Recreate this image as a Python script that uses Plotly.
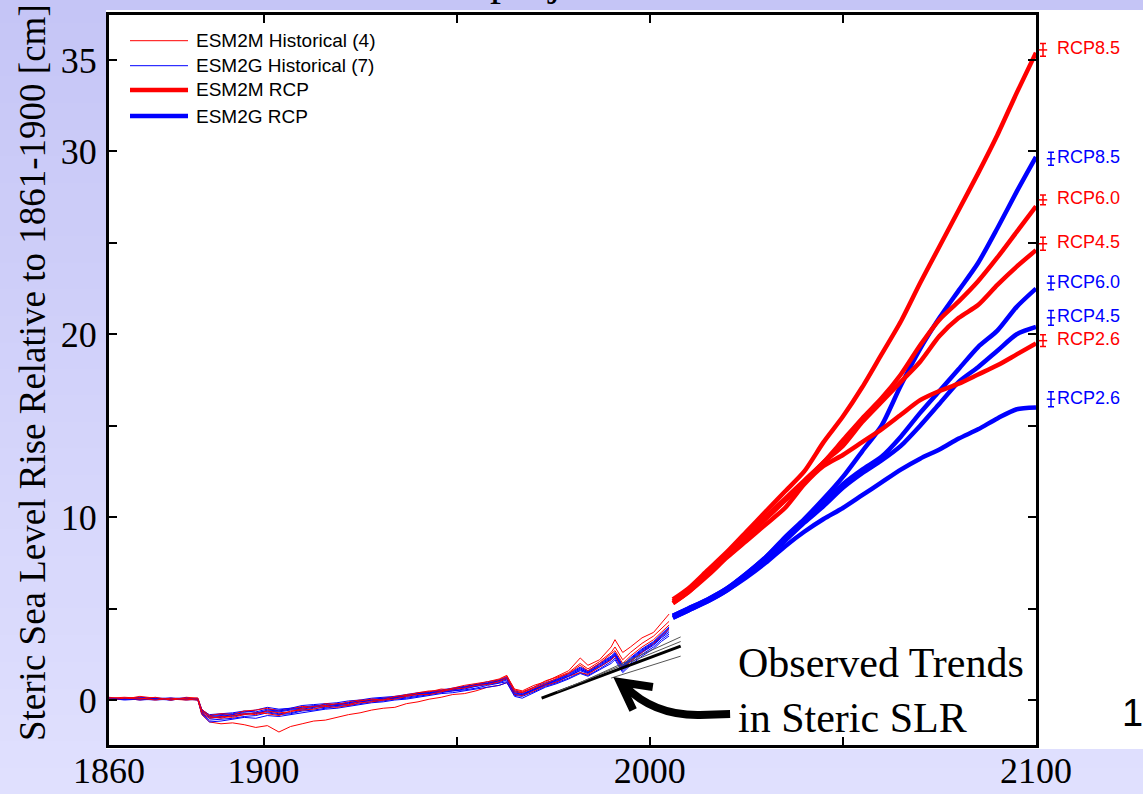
import plotly.graph_objects as go

# ---------------- data ----------------
hist_years = [1860, 1864, 1868, 1872, 1876, 1880, 1883, 1884, 1886, 1889, 1892, 1895, 1898,
              1901, 1904, 1907, 1910, 1913, 1916, 1919, 1922, 1925, 1928, 1931, 1934, 1937,
              1940, 1943, 1946, 1949, 1952, 1955, 1958, 1961, 1963, 1965, 1967, 1970, 1973,
              1976, 1979, 1982, 1984, 1987, 1990, 1991, 1993, 1995, 1998, 2001, 2003, 2005]

# ESM2M historical members (cm)
esm2m_hist_1 = [0.15, 0.05, 0.2, 0.1, 0.0, 0.15, 0.1, -0.5, -0.85, -0.75, -0.8, -0.6, -0.55,
                -0.45, -0.6, -0.5, -0.35, -0.4, -0.2, -0.25, -0.1, 0.0, -0.05, 0.1, 0.15, 0.3,
                0.35, 0.45, 0.6, 0.55, 0.7, 0.85, 0.9, 1.1, 1.3, 0.6, 0.5, 0.8, 1.0,
                1.3, 1.6, 2.3, 1.9, 2.2, 2.9, 3.3, 2.6, 2.9, 3.4, 3.7, 4.2, 4.7]
esm2m_hist_2 = [0.05, 0.1, 0.0, 0.1, 0.05, 0.0, 0.05, -0.8, -1.2, -1.3, -1.25, -1.35, -1.5,
                -1.4, -1.75, -1.45, -1.3, -1.15, -1.1, -0.95, -0.8, -0.7, -0.55, -0.45, -0.4, -0.2,
                -0.1, 0.05, 0.15, 0.3, 0.35, 0.5, 0.7, 0.8, 0.95, 0.3, 0.25, 0.5, 0.8,
                1.0, 1.3, 1.5, 1.4, 1.8, 2.2, 2.4, 1.7, 2.1, 2.6, 3.1, 3.5, 3.9]
esm2m_hist_3 = [0.1, 0.15, 0.1, 0.0, 0.1, 0.05, 0.0, -0.7, -1.0, -0.9, -0.95, -0.8, -0.7,
                -0.75, -0.85, -0.6, -0.55, -0.5, -0.35, -0.4, -0.3, -0.15, -0.1, 0.0, 0.05, 0.2,
                0.3, 0.3, 0.45, 0.6, 0.65, 0.8, 0.85, 1.0, 1.2, 0.45, 0.4, 0.65, 0.9,
                1.2, 1.45, 1.9, 1.6, 2.0, 2.5, 2.7, 2.0, 2.4, 2.9, 3.3, 3.7, 4.1]
esm2m_hist_4 = [0.0, 0.1, 0.05, 0.15, 0.0, 0.1, 0.1, -0.6, -0.9, -1.0, -0.85, -0.75, -0.8,
                -0.6, -0.7, -0.65, -0.45, -0.35, -0.3, -0.2, -0.25, -0.05, 0.05, 0.0, 0.2, 0.25,
                0.4, 0.5, 0.5, 0.65, 0.8, 0.9, 1.0, 1.15, 1.35, 0.55, 0.45, 0.7, 1.05,
                1.25, 1.5, 2.0, 1.7, 2.1, 2.6, 2.9, 2.2, 2.6, 3.1, 3.5, 3.9, 4.3]

# ESM2G historical members (cm)
esm2g_hist_1 = [0.1, 0.05, 0.1, 0.05, 0.1, 0.0, 0.05, -0.55, -0.8, -0.75, -0.7, -0.6, -0.65,
                -0.5, -0.55, -0.45, -0.4, -0.3, -0.35, -0.2, -0.15, -0.05, 0.0, 0.05, 0.15, 0.2,
                0.35, 0.4, 0.5, 0.6, 0.7, 0.8, 0.95, 1.05, 1.2, 0.4, 0.3, 0.6, 0.85,
                1.1, 1.35, 1.7, 1.5, 1.9, 2.3, 2.5, 1.8, 2.2, 2.7, 3.1, 3.5, 3.9]
esm2g_hist_2 = [0.05, 0.1, 0.15, 0.1, 0.0, 0.1, 0.0, -0.65, -1.0, -0.95, -0.85, -0.8, -0.7,
                -0.65, -0.75, -0.7, -0.55, -0.45, -0.4, -0.3, -0.25, -0.1, -0.05, 0.0, 0.1, 0.15,
                0.25, 0.35, 0.45, 0.5, 0.6, 0.75, 0.85, 0.95, 1.1, 0.3, 0.25, 0.55, 0.8,
                1.0, 1.3, 1.6, 1.45, 1.8, 2.2, 2.4, 1.7, 2.1, 2.6, 3.0, 3.4, 3.7]
esm2g_hist_3 = [0.1, 0.1, 0.05, 0.0, 0.05, 0.1, 0.05, -0.7, -1.1, -1.05, -1.0, -0.9, -0.85,
                -0.7, -0.8, -0.75, -0.6, -0.55, -0.45, -0.35, -0.3, -0.2, -0.1, -0.05, 0.05, 0.1,
                0.2, 0.3, 0.4, 0.5, 0.55, 0.65, 0.8, 0.9, 1.0, 0.25, 0.2, 0.45, 0.75,
                0.95, 1.2, 1.5, 1.35, 1.7, 2.1, 2.3, 1.6, 2.0, 2.5, 2.9, 3.3, 3.6]
esm2g_hist_4 = [0.0, 0.05, 0.1, 0.1, 0.05, 0.05, 0.1, -0.5, -0.85, -0.8, -0.75, -0.65, -0.55,
                -0.4, -0.5, -0.45, -0.3, -0.25, -0.2, -0.15, -0.05, 0.0, 0.1, 0.15, 0.2, 0.3,
                0.4, 0.45, 0.55, 0.65, 0.75, 0.85, 1.0, 1.1, 1.25, 0.5, 0.4, 0.7, 0.95,
                1.15, 1.45, 1.8, 1.6, 2.0, 2.4, 2.6, 1.9, 2.3, 2.8, 3.2, 3.6, 4.0]
esm2g_hist_5 = [0.1, 0.0, 0.05, 0.1, 0.1, 0.05, 0.0, -0.75, -1.2, -1.15, -1.05, -0.95, -1.0,
                -0.85, -0.9, -0.8, -0.7, -0.6, -0.5, -0.45, -0.35, -0.25, -0.15, -0.1, 0.0, 0.05,
                0.15, 0.25, 0.35, 0.4, 0.5, 0.6, 0.7, 0.8, 0.95, 0.2, 0.1, 0.4, 0.7,
                0.9, 1.15, 1.45, 1.3, 1.65, 2.0, 2.2, 1.5, 1.9, 2.4, 2.8, 3.2, 3.5]
esm2g_hist_6 = [0.05, 0.1, 0.0, 0.05, 0.1, 0.1, 0.05, -0.6, -0.9, -0.85, -0.9, -0.75, -0.7,
                -0.6, -0.65, -0.55, -0.5, -0.4, -0.3, -0.25, -0.2, -0.1, 0.0, 0.05, 0.1, 0.25,
                0.3, 0.35, 0.5, 0.55, 0.65, 0.75, 0.9, 1.0, 1.15, 0.35, 0.3, 0.55, 0.85,
                1.05, 1.3, 1.65, 1.5, 1.85, 2.25, 2.45, 1.75, 2.15, 2.65, 3.05, 3.45, 3.8]
esm2g_hist_7 = [0.1, 0.05, 0.1, 0.05, 0.0, 0.1, 0.05, -0.55, -0.95, -0.9, -0.8, -0.7, -0.75,
                -0.55, -0.6, -0.5, -0.45, -0.35, -0.25, -0.3, -0.15, -0.05, 0.05, 0.1, 0.15, 0.25,
                0.35, 0.4, 0.5, 0.6, 0.7, 0.85, 0.9, 1.05, 1.2, 0.45, 0.35, 0.6, 0.9,
                1.1, 1.4, 1.75, 1.55, 1.95, 2.35, 2.55, 1.85, 2.25, 2.75, 3.15, 3.55, 3.95]

rcp_years = [2006, 2010, 2015, 2020, 2025, 2030, 2035, 2040, 2045, 2050,
             2055, 2060, 2065, 2070, 2075, 2080, 2085, 2090, 2095, 2100]

esm2m_rcp85 = [5.5, 6.1, 7.1, 8.1, 9.2, 10.3, 11.4, 12.5, 14.1, 15.5,
               17.1, 18.9, 20.7, 22.8, 24.8, 26.8, 28.8, 30.9, 33.2, 35.4]
esm2m_rcp60 = [5.4, 6.0, 7.0, 8.0, 9.0, 10.0, 11.0, 12.0, 13.0, 14.2,
               15.4, 16.5, 17.8, 19.4, 20.8, 21.8, 22.9, 24.2, 25.6, 27.0]
esm2m_rcp45 = [5.3, 5.9, 6.9, 7.9, 8.9, 9.9, 10.9, 11.9, 13.0, 13.9,
               15.2, 16.3, 17.4, 18.5, 19.9, 20.9, 21.6, 22.7, 23.7, 24.6]
esm2m_rcp26 = [5.3, 5.9, 6.8, 7.8, 8.7, 9.6, 10.5, 11.8, 12.8, 13.4,
               14.1, 14.8, 15.6, 16.4, 16.9, 17.3, 17.8, 18.3, 18.9, 19.5]

esm2g_rcp85 = [4.6, 5.0, 5.5, 6.1, 6.9, 7.8, 8.9, 9.9, 11.0, 12.2,
               13.6, 15.0, 17.2, 19.2, 20.9, 22.4, 23.9, 25.8, 27.8, 29.7]
esm2g_rcp60 = [4.6, 5.0, 5.5, 6.1, 6.9, 7.8, 8.8, 9.8, 10.8, 11.8,
               12.6, 13.3, 14.4, 15.7, 16.9, 18.1, 19.3, 20.2, 21.5, 22.5]
esm2g_rcp45 = [4.5, 4.9, 5.4, 6.0, 6.8, 7.7, 8.7, 9.7, 10.6, 11.6,
               12.4, 13.1, 13.9, 15.0, 16.2, 17.4, 18.2, 19.1, 20.0, 20.4]
esm2g_rcp26 = [4.5, 4.9, 5.4, 6.0, 6.7, 7.5, 8.4, 9.2, 9.9, 10.5,
               11.2, 11.9, 12.6, 13.2, 13.7, 14.3, 14.8, 15.4, 15.9, 16.0]

# end-of-century ensemble mean and spread
scenario_labels = ["RCP8.5", "RCP6.0", "RCP4.5", "RCP2.6"]
esm2m_end_mean = [35.55, 27.35, 24.95, 19.65]
esm2m_end_half = [0.35, 0.27, 0.36, 0.32]
esm2g_end_mean = [29.6, 22.8, 20.9, 16.45]
esm2g_end_half = [0.36, 0.37, 0.40, 0.41]

# observed steric trends: start/end year and value
trend_start_year = [1972, 1976, 1982, 1990]
trend_start_val = [0.1, 0.45, 0.95, 1.2]
trend_end_year = [2008, 2008, 2008, 2008]
trend_end_val = [2.95, 3.2, 3.45, 2.4]
trend_width = [3, 1, 1, 1]
trend_color = ["#000000", "#555555", "#555555", "#555555"]

x_tick_vals = [1860, 1900, 1950, 2000, 2050, 2100]
x_tick_text = ["1860", "1900", "", "2000", "", "2100"]
y_tick_vals = [0, 5, 10, 15, 20, 25, 30, 35]
y_tick_text = ["0", "", "10", "", "20", "", "30", "35"]

esm2m_hist = [esm2m_hist_1, esm2m_hist_2, esm2m_hist_3, esm2m_hist_4]
esm2g_hist = [esm2g_hist_1, esm2g_hist_2, esm2g_hist_3, esm2g_hist_4,
              esm2g_hist_5, esm2g_hist_6, esm2g_hist_7]
for s in esm2m_hist + esm2g_hist:
    assert len(s) == len(hist_years)
for s in [esm2m_rcp85, esm2m_rcp60, esm2m_rcp45, esm2m_rcp26,
          esm2g_rcp85, esm2g_rcp60, esm2g_rcp45, esm2g_rcp26]:
    assert len(s) == len(rcp_years)

# ---------------- geometry helpers ----------------
W, H = 1143, 794
ML, MT, MB = 109, 15, 49
FRAME_R = 1036
AW = W - ML
AH = H - MT - MB


def px(xp):
    return (xp - ML) / AW


def py(yp):
    return (H - MB - yp) / AH


D = px(FRAME_R)
RED = "#ff0000"
BLUE = "#0000ff"
SERIF = "Liberation Serif, Times New Roman, serif"
SANS = "Liberation Sans, Arial, sans-serif"

fig = go.Figure()

# historical members (thin)
order = [("g", 0), ("g", 1), ("g", 2), ("g", 3), ("m", 0), ("m", 1),
         ("g", 4), ("g", 5), ("g", 6), ("m", 2), ("m", 3)]
for model, i in order:
    vals = esm2m_hist[i] if model == "m" else esm2g_hist[i]
    fig.add_trace(go.Scatter(x=hist_years, y=vals, mode="lines",
                             line=dict(color=RED if model == "m" else BLUE, width=1),
                             showlegend=False, hoverinfo="skip"))

# observed trends
for i in range(len(trend_start_year)):
    fig.add_trace(go.Scatter(x=[trend_start_year[i], trend_end_year[i]],
                             y=[trend_start_val[i], trend_end_val[i]], mode="lines",
                             line=dict(color=trend_color[i], width=trend_width[i]),
                             showlegend=False, hoverinfo="skip"))

# scenario projections (thick)
for vals in [esm2g_rcp26, esm2g_rcp45, esm2g_rcp60, esm2g_rcp85]:
    fig.add_trace(go.Scatter(x=rcp_years, y=vals, mode="lines",
                             line=dict(color=BLUE, width=4.5, shape="spline", smoothing=0.7),
                             showlegend=False, hoverinfo="skip"))
for vals in [esm2m_rcp26, esm2m_rcp45, esm2m_rcp60, esm2m_rcp85]:
    fig.add_trace(go.Scatter(x=rcp_years, y=vals, mode="lines",
                             line=dict(color=RED, width=4.5, shape="spline", smoothing=0.7),
                             showlegend=False, hoverinfo="skip"))

# end-of-century spread bars and scenario names beside the frame
for mean, half, col, xpos in [(esm2m_end_mean, esm2m_end_half, RED, 7),
                              (esm2g_end_mean, esm2g_end_half, BLUE, 15)]:
    fig.add_trace(go.Scatter(
        x=[xpos] * len(mean), y=mean, xaxis="x2", yaxis="y", mode="markers",
        marker=dict(symbol="line-ew", size=6, line=dict(color=col, width=1.5)),
        error_y=dict(type="data", array=half, visible=True, color=col,
                     thickness=1.5, width=3),
        showlegend=False, hoverinfo="skip"))
    fig.add_trace(go.Scatter(
        x=[21] * len(mean), y=mean, xaxis="x2", yaxis="y", mode="text",
        text=scenario_labels, textposition="middle right",
        textfont=dict(family=SANS, size=18, color=col),
        showlegend=False, hoverinfo="skip"))

shapes = []
# slide background gradient
NB = 30
top_c = (197, 197, 246)
bot_c = (224, 224, 254)
y_top, y_bot = py(-2), py(H + 2)
for k in range(NB):
    t = k / (NB - 1)
    c = tuple(round(top_c[j] + (bot_c[j] - top_c[j]) * t) for j in range(3))
    ya = y_top + (y_bot - y_top) * k / NB
    yb = y_top + (y_bot - y_top) * (k + 1) / NB
    shapes.append(dict(type="rect", xref="paper", yref="paper", x0=px(-2), x1=px(W + 2),
                       y0=yb, y1=ya + 0.002,
                       fillcolor="rgb(%d,%d,%d)" % c, line=dict(width=0), layer="below"))
# white figure panel
shapes.append(dict(type="rect", xref="paper", yref="paper", x0=px(106), x1=px(W + 2),
                   y0=py(749), y1=py(10), fillcolor="white", line=dict(width=0),
                   layer="below"))

# curved arrow pointing at the observed trends
shapes.append(dict(type="path", xref="x", yref="y",
                   path="M 2020.8,-0.77 L 2013,-0.82 C 2005,-0.85 1998.5,-0.3 1993.6,0.75",
                   line=dict(color="black", width=8)))
shapes.append(dict(type="path", xref="x", yref="y",
                   path="M 2000.8,0.71 L 1992.3,0.98 L 1995.7,-0.55",
                   line=dict(color="black", width=8)))

# legend samples
legend_rows = [(40.7, RED, 1, "ESM2M Historical (4)"),
               (65.7, BLUE, 1, "ESM2G Historical (7)"),
               (90.0, RED, 4.5, "ESM2M RCP"),
               (116.0, BLUE, 4.5, "ESM2G RCP")]
annotations = []
for yp, col, wdt, label in legend_rows:
    shapes.append(dict(type="line", xref="paper", yref="paper", x0=px(130), x1=px(188),
                       y0=py(yp), y1=py(yp), line=dict(color=col, width=wdt)))
    annotations.append(dict(xref="paper", yref="paper", x=px(194), y=py(yp),
                            xanchor="left", yanchor="middle", showarrow=False,
                            text=label, font=dict(family=SANS, size=19, color="black")))

annotations += [
    dict(xref="paper", yref="paper", x=px(32), y=py(373), textangle=-90,
         xanchor="center", yanchor="middle", showarrow=False,
         text="Steric Sea Level Rise Relative to 1861-1900 [cm]",
         font=dict(family=SERIF, size=37, color="black")),
    dict(xref="x", yref="y", x=2022.4, y=0.5, xanchor="left", yanchor="middle",
         align="left", showarrow=False, text="Observed Trends<br>in Steric SLR",
         font=dict(family=SERIF, size=42, color="black")),
    dict(xref="paper", yref="paper", x=px(1132), y=py(713), xanchor="center",
         yanchor="middle", showarrow=False, text="1",
         font=dict(family=SANS, size=38, color="black")),
    dict(xref="paper", yref="paper", x=px(488), y=py(7), xanchor="left",
         yanchor="bottom", showarrow=False, text="projections",
         font=dict(family=SERIF, size=44, color="black")),
]

axis_common = dict(showline=True, linewidth=3, linecolor="black", mirror="ticks",
                   ticks="inside", ticklen=8, tickwidth=2, tickcolor="black",
                   showgrid=False, zeroline=False, automargin=False,
                   tickfont=dict(family=SERIF, size=36, color="black"))

fig.update_layout(
    width=W, height=H, autosize=False,
    margin=dict(l=ML, r=0, t=MT, b=MB, pad=0, autoexpand=False),
    paper_bgcolor="rgb(210,210,250)", plot_bgcolor="rgba(0,0,0,0)",
    showlegend=False,
    xaxis=dict(domain=[0, D], range=[1860, 2100], tickmode="array",
               tickvals=x_tick_vals, ticktext=x_tick_text, anchor="y",
               ticklabelstandoff=-8, **axis_common),
    yaxis=dict(domain=[0, 1], range=[-2.46, 37.46], tickmode="array",
               tickvals=y_tick_vals, ticktext=y_tick_text, anchor="x",
               ticklabelstandoff=2, **axis_common),
    xaxis2=dict(domain=[D, 1], range=[0, W - FRAME_R], anchor="y", visible=False,
                showgrid=False, zeroline=False, automargin=False),
    shapes=shapes,
    annotations=annotations,
)

fig.write_html("out.html")
